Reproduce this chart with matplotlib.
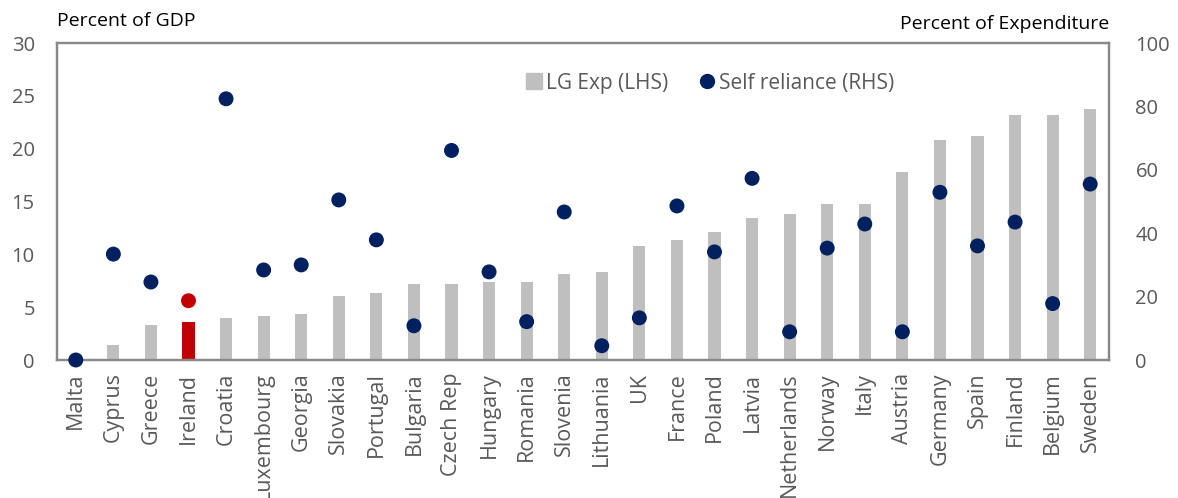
import matplotlib
matplotlib.use("Agg")
import matplotlib.pyplot as plt
from matplotlib.lines import Line2D
import numpy as np

countries = ["Malta", "Cyprus", "Greece", "Ireland", "Croatia", "Luxembourg", "Georgia",
             "Slovakia", "Portugal", "Bulgaria", "Czech Rep", "Hungary", "Romania", "Slovenia",
             "Lithuania", "UK", "France", "Poland", "Latvia", "Netherlands", "Norway", "Italy",
             "Austria", "Germany", "Spain", "Finland", "Belgium", "Sweden"]
lg_exp = [0.5, 1.4, 3.3, 3.6, 4.0, 4.2, 4.4, 6.1, 6.3, 7.2, 7.2, 7.4, 7.4, 8.1,
          8.3, 10.8, 11.4, 12.1, 13.4, 13.8, 14.8, 14.8, 17.8, 20.8, 21.2, 23.2, 23.2, 23.8]
self_reliance = [0, 33.4, 24.6, 18.7, 82.4, 28.4, 30.0, 50.5, 37.9, 10.8, 66.1, 27.8, 12.1, 46.7,
                 4.5, 13.3, 48.6, 34.1, 57.3, 8.9, 35.3, 42.9, 8.9, 52.9, 36.0, 43.5, 17.8, 55.5]
highlight = "Ireland"

plt.rcParams['font.family'] = ['Open Sans', 'DejaVu Sans']

GREY_BAR = "#BFBFBF"
RED = "#C00000"
NAVY = "#002060"
TICK = "#595959"
SPINE = "#898989"

fig = plt.figure(figsize=(11.78, 4.98), dpi=100)
ax = fig.add_axes([57/1178, 1-360/498, (1109-57)/1178, (360-43)/498])
ax2 = ax.twinx()

x = np.arange(len(countries))
bar_colors = [RED if c == highlight else GREY_BAR for c in countries]
dot_colors = [RED if c == highlight else NAVY for c in countries]

ax.bar(x, lg_exp, width=0.32, color=bar_colors, zorder=2)
ax2.scatter(x, self_reliance, s=95, color=dot_colors, zorder=3, clip_on=False)

ax.set_xlim(-0.5, len(countries) - 0.5)
ax.set_ylim(0, 30)
ax.set_yticks(range(0, 31, 5))
ax2.set_ylim(0, 100)
ax2.set_yticks(range(0, 101, 20))

ax.set_xticks(x)
ax.set_xticklabels(countries, rotation=90, fontsize=15.5, color=TICK)
ax.tick_params(axis='x', length=0, pad=9)
ax.tick_params(axis='y', length=0, pad=16, labelsize=14.5, labelcolor=TICK)
ax2.tick_params(axis='y', length=0, pad=19, labelsize=14.5, labelcolor=TICK)

for a in (ax, ax2):
    for s in a.spines.values():
        s.set_color(SPINE)
        s.set_linewidth(1.6)

fig.text(57/1178, 1-21/498, "Percent of GDP", fontsize=14, color="black", va="center", ha="left")
fig.text(1109/1178, 1-24/498, "Percent of Expenditure", fontsize=14, color="black", va="center", ha="right")

handles = [Line2D([], [], marker='s', linestyle='none', markersize=11, color=GREY_BAR),
           Line2D([], [], marker='o', linestyle='none', markersize=10, color=NAVY)]
leg = fig.legend(handles, ["LG Exp (LHS)", "Self reliance (RHS)"], ncol=2, frameon=False,
                 loc="center", bbox_to_anchor=(710/1178, 1-83/498), fontsize=15,
                 handletextpad=0.15, columnspacing=1.5, handlelength=0.8)
for t in leg.get_texts():
    t.set_color(TICK)

fig.savefig("out.png", dpi=100)
